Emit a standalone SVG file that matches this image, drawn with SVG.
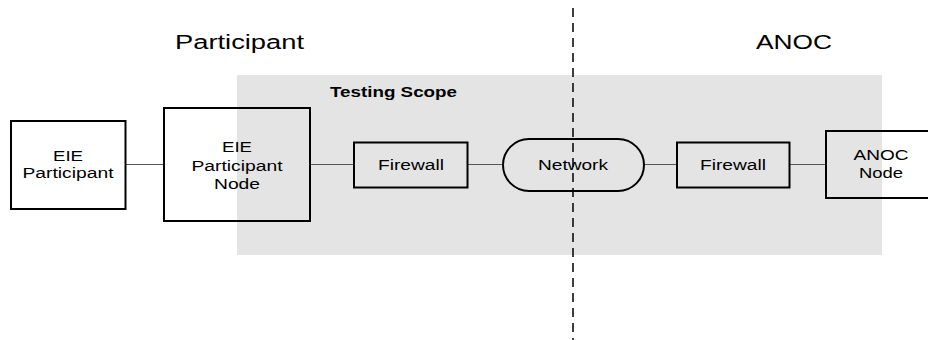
<svg xmlns="http://www.w3.org/2000/svg" width="928" height="340" viewBox="0 0 928 340">
  <style>
    .box { fill: none; stroke: #000; stroke-width: 2; }
    .conn { stroke: #555; stroke-width: 1.2; fill: none; }
    .lbl { font-family: "Liberation Sans", Arial, sans-serif; font-size: 15.5px; fill: #000; text-anchor: middle; }
    .title { font-family: "Liberation Sans", Arial, sans-serif; font-size: 20px; fill: #000; }
    .scope { font-family: "Liberation Sans", Arial, sans-serif; font-size: 15.5px; font-weight: bold; fill: #000; }
  </style>
  <rect x="0" y="0" width="928" height="340" fill="#fff"/>
  <g id="testing-scope">
    <rect x="237" y="75" width="645" height="180" fill="#e4e4e4"/>
    <text class="scope" x="330" y="96.5" textLength="127" lengthAdjust="spacingAndGlyphs">Testing Scope</text>
  </g>
  <g id="titles">
    <text class="title" x="175" y="48.5" textLength="129" lengthAdjust="spacingAndGlyphs">Participant</text>
    <text class="title" x="756" y="48.5" textLength="76" lengthAdjust="spacingAndGlyphs">ANOC</text>
  </g>
  <g id="boundary">
    <line x1="573" y1="8" x2="573" y2="340" stroke="#000" stroke-width="1.5" stroke-dasharray="9,6"/>
  </g>
  <g id="connectors">
    <line class="conn" x1="125.5" y1="164.5" x2="164" y2="164.5"/>
    <line class="conn" x1="310" y1="164.5" x2="354" y2="164.5"/>
    <line class="conn" x1="467.5" y1="164.5" x2="503" y2="164.5"/>
    <line class="conn" x1="644" y1="164.5" x2="677" y2="164.5"/>
    <line class="conn" x1="789.5" y1="164.5" x2="826" y2="164.5"/>
  </g>
  <g id="eie-participant">
    <rect class="box" x="11" y="121" width="114.5" height="88"/>
    <text class="lbl" x="68" y="161" textLength="30" lengthAdjust="spacingAndGlyphs">EIE</text>
    <text class="lbl" x="68" y="178" textLength="91" lengthAdjust="spacingAndGlyphs">Participant</text>
  </g>
  <g id="eie-participant-node">
    <rect class="box" x="164" y="108" width="146" height="113"/>
    <text class="lbl" x="237" y="152" textLength="30" lengthAdjust="spacingAndGlyphs">EIE</text>
    <text class="lbl" x="237" y="170.5" textLength="91" lengthAdjust="spacingAndGlyphs">Participant</text>
    <text class="lbl" x="237" y="189" textLength="46" lengthAdjust="spacingAndGlyphs">Node</text>
  </g>
  <g id="firewall-1">
    <rect class="box" x="354" y="142.5" width="113.5" height="45"/>
    <text class="lbl" x="411" y="170" textLength="66" lengthAdjust="spacingAndGlyphs">Firewall</text>
  </g>
  <g id="network">
    <rect class="box" x="503" y="139" width="141" height="52" rx="26" ry="26"/>
    <text class="lbl" x="573" y="170" textLength="70" lengthAdjust="spacingAndGlyphs">Network</text>
  </g>
  <g id="firewall-2">
    <rect class="box" x="677" y="142.5" width="112.5" height="45"/>
    <text class="lbl" x="733" y="170" textLength="66" lengthAdjust="spacingAndGlyphs">Firewall</text>
  </g>
  <g id="anoc-node">
    <rect class="box" x="826" y="131" width="110" height="67"/>
    <text class="lbl" x="881" y="160" textLength="55" lengthAdjust="spacingAndGlyphs">ANOC</text>
    <text class="lbl" x="881" y="178" textLength="44" lengthAdjust="spacingAndGlyphs">Node</text>
  </g>
</svg>
